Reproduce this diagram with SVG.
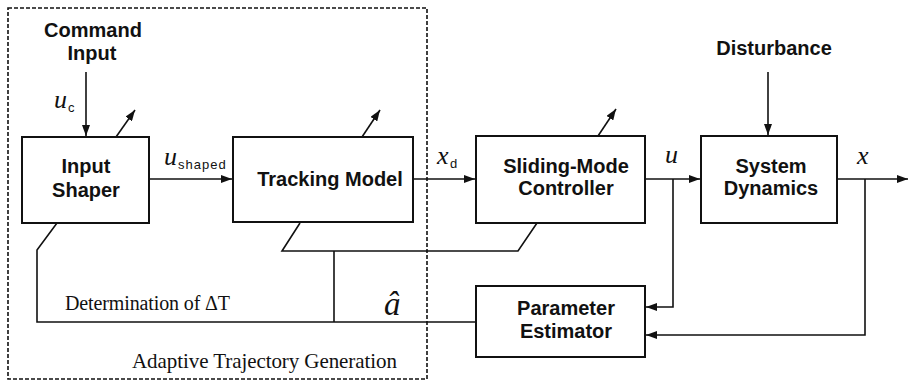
<svg xmlns="http://www.w3.org/2000/svg" width="909" height="381" viewBox="0 0 909 381">
  <style>
    .box { fill: #fff; stroke: #111; stroke-width: 2; }
    .ln { fill: none; stroke: #111; stroke-width: 1.6; }
    .lbl { font-family: "Liberation Sans", Arial, sans-serif; font-weight: bold; font-size: 20px; fill: #111; text-anchor: middle; }
    .var { font-family: "Liberation Serif", "Times New Roman", serif; font-style: italic; font-size: 26px; fill: #111; }
    .sub { font-family: "Liberation Sans", Arial, sans-serif; font-size: 13px; fill: #111; }
    .note { font-family: "Liberation Serif", "Times New Roman", serif; font-size: 20px; fill: #111; }
  </style>
  <defs>
    <marker id="arr" viewBox="0 0 11 8" refX="11" refY="4" markerWidth="11" markerHeight="8" markerUnits="userSpaceOnUse" orient="auto">
      <path d="M0,0 L11,4 L0,8 z" fill="#111"/>
    </marker>
  </defs>

  <!-- adaptive trajectory generation boundary -->
  <g id="atg-boundary">
    <rect x="8" y="8" width="419" height="371" fill="none" stroke="#111" stroke-width="1.6" stroke-dasharray="4 2"/>
    <text class="note" x="132" y="368" style="font-size:21px" textLength="265">Adaptive Trajectory Generation</text>
  </g>

  <!-- connectors -->
  <g id="connectors">
    <!-- command input -->
    <line class="ln" x1="86" y1="72" x2="86" y2="136" marker-end="url(#arr)"/>
    <!-- disturbance -->
    <line class="ln" x1="768" y1="72" x2="768" y2="135" marker-end="url(#arr)"/>
    <!-- forward path -->
    <line class="ln" x1="149" y1="179" x2="232" y2="179" marker-end="url(#arr)"/>
    <line class="ln" x1="413" y1="179" x2="475" y2="179" marker-end="url(#arr)"/>
    <line class="ln" x1="645" y1="179" x2="700" y2="179" marker-end="url(#arr)"/>
    <line class="ln" x1="837" y1="179" x2="908" y2="179" marker-end="url(#arr)"/>
    <!-- feedback of u and x to estimator -->
    <polyline class="ln" points="673,179 673,307 646,307" marker-end="url(#arr)"/>
    <polyline class="ln" points="865,179 865,335 646,335" marker-end="url(#arr)"/>
    <!-- parameter estimate distribution -->
    <polyline class="ln" points="476,322 37,322 37,250 57,223"/>
    <polyline class="ln" points="300,223 282,251 518,251 537,223"/>
    <line class="ln" x1="334" y1="251" x2="334" y2="322"/>
    <!-- adaptation arrows -->
    <line class="ln" x1="116" y1="137" x2="135" y2="110" marker-end="url(#arr)"/>
    <line class="ln" x1="362" y1="137" x2="380" y2="110" marker-end="url(#arr)"/>
    <line class="ln" x1="598" y1="136" x2="616" y2="109" marker-end="url(#arr)"/>
  </g>

  <!-- signal labels -->
  <g id="labels">
    <text class="lbl" x="93" y="37">Command</text>
    <text class="lbl" x="92" y="60">Input</text>
    <text class="lbl" x="774" y="55">Disturbance</text>
    <text class="var" x="54" y="108">u</text><text class="sub" x="68" y="112">c</text>
    <text class="var" x="164" y="165">u</text><text class="sub" x="178" y="169" letter-spacing="1">shaped</text>
    <text class="var" x="437" y="164">x</text><text class="sub" x="450" y="168">d</text>
    <text class="var" x="665" y="163">u</text>
    <text class="var" x="857" y="164">x</text>
    <text class="var" x="384" y="315" style="font-size:33px">â</text>
    <text class="note" x="65" y="310" textLength="165">Determination of ΔT</text>
  </g>

  <g id="input-shaper">
    <rect class="box" x="22" y="137" width="127" height="86"/>
    <text class="lbl" x="86" y="173">Input</text>
    <text class="lbl" x="86" y="197">Shaper</text>
  </g>

  <g id="tracking-model">
    <rect class="box" x="233" y="137" width="180" height="85"/>
    <text class="lbl" x="330" y="186">Tracking Model</text>
  </g>

  <g id="sliding-mode-controller">
    <rect class="box" x="476" y="136" width="169" height="87"/>
    <text class="lbl" x="566" y="173">Sliding-Mode</text>
    <text class="lbl" x="566" y="195">Controller</text>
  </g>

  <g id="system-dynamics">
    <rect class="box" x="701" y="136" width="136" height="87"/>
    <text class="lbl" x="771" y="173">System</text>
    <text class="lbl" x="771" y="195">Dynamics</text>
  </g>

  <g id="parameter-estimator">
    <rect class="box" x="476" y="286" width="169" height="71"/>
    <text class="lbl" x="566" y="315">Parameter</text>
    <text class="lbl" x="566" y="338">Estimator</text>
  </g>
</svg>
